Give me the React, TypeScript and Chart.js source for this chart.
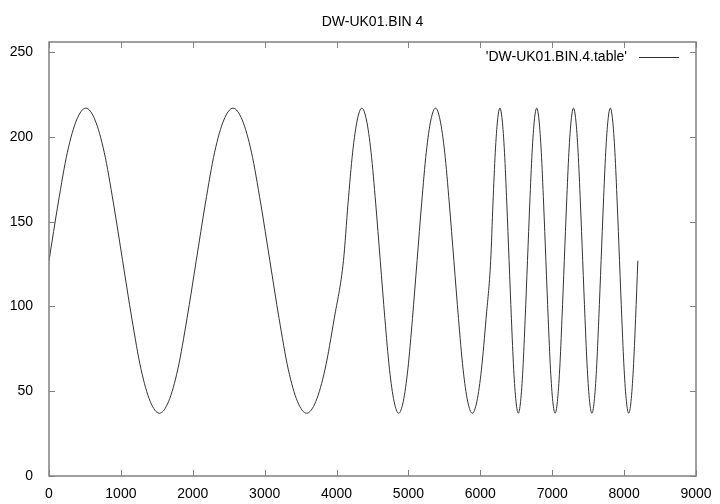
import { useEffect, useRef } from "react";
import { Chart, registerables } from "chart.js";

Chart.register(...registerables);

const TITLE = "DW-UK01.BIN 4";
const SERIES_LABEL = "'DW-UK01.BIN.4.table'";

const sampleIndex = [
  0, 128, 256, 384, 512, 640, 768, 896, 1024, 1152, 1280, 1408, 1536, 1664, 1792, 1920,
  2048, 2176, 2304, 2432, 2560, 2688, 2816, 2944, 3072, 3200, 3328, 3456, 3584, 3712, 3840, 3968,
  4096, 4160, 4224, 4288, 4352, 4416, 4480, 4544, 4608, 4672, 4736, 4800, 4864, 4928, 4992, 5056,
  5120, 5184, 5248, 5312, 5376, 5440, 5504, 5568, 5632, 5696, 5760, 5824, 5888, 5952, 6016, 6080,
  6144, 6176, 6208, 6240, 6272, 6304, 6336, 6368, 6400, 6432, 6464, 6496, 6528, 6560, 6592, 6624,
  6656, 6688, 6720, 6752, 6784, 6816, 6848, 6880, 6912, 6944, 6976, 7008, 7040, 7072, 7104, 7136,
  7168, 7200, 7232, 7264, 7296, 7328, 7360, 7392, 7424, 7456, 7488, 7520, 7552, 7584, 7616, 7648,
  7680, 7712, 7744, 7776, 7808, 7840, 7872, 7904, 7936, 7968, 8000, 8032, 8064, 8096, 8128, 8160,
  8191,
];

const sampleValue = [
  127, 161, 191, 210, 217, 210, 191, 161, 127, 93, 63, 44, 37, 44, 63, 93,
  127, 161, 191, 210, 217, 210, 191, 161, 127, 93, 63, 44, 37, 44, 63, 93,
  127, 161, 191, 210, 217, 210, 191, 161, 127, 93, 63, 44, 37, 44, 63, 93,
  127, 161, 191, 210, 217, 210, 191, 161, 127, 93, 63, 44, 37, 44, 63, 93,
  127, 161, 191, 210, 217, 210, 191, 161, 127, 93, 63, 44, 37, 44, 63, 93,
  127, 161, 191, 210, 217, 210, 191, 161, 127, 93, 63, 44, 37, 44, 63, 93,
  127, 161, 191, 210, 217, 210, 191, 161, 127, 93, 63, 44, 37, 44, 63, 93,
  127, 161, 191, 210, 217, 210, 191, 161, 127, 93, 63, 44, 37, 44, 63, 93,
  127,
];

const xTickValues = [0, 1000, 2000, 3000, 4000, 5000, 6000, 7000, 8000, 9000];
const yTickValues = [0, 50, 100, 150, 200, 250];

const FONT_FAMILY = "'Liberation Sans', Arial, Helvetica, sans-serif";
const FONT_SIZE = 14;
const AXIS_COLOR = "#808080";
const LINE_COLOR = "#333333";

const framePlugin = {
  id: "gnuplotFrame",
  afterDraw(chart: any) {
    const { ctx, chartArea } = chart;
    const { left, right, top, bottom } = chartArea;
    const xs = chart.scales.x;
    const ys = chart.scales.y;
    const tick = 6;
    ctx.save();
    ctx.strokeStyle = AXIS_COLOR;
    ctx.lineWidth = 1.5;
    ctx.strokeRect(left, top, right - left, bottom - top);
    ctx.lineWidth = 1;
    ctx.beginPath();
    for (const v of xTickValues) {
      const px = Math.round(xs.getPixelForValue(v)) + 0.5;
      ctx.moveTo(px, bottom);
      ctx.lineTo(px, bottom - tick);
      ctx.moveTo(px, top);
      ctx.lineTo(px, top + tick);
    }
    for (const v of yTickValues) {
      const py = Math.round(ys.getPixelForValue(v)) + 0.5;
      ctx.moveTo(left, py);
      ctx.lineTo(left + tick, py);
      ctx.moveTo(right, py);
      ctx.lineTo(right - tick, py);
    }
    ctx.stroke();

    // title
    ctx.fillStyle = "#000";
    ctx.font = `${FONT_SIZE}px ${FONT_FAMILY}`;
    ctx.textAlign = "center";
    ctx.textBaseline = "middle";
    ctx.fillText(TITLE, (left + right) / 2, 22);

    // key
    const ds = chart.data.datasets[0];
    const keyY = 57;
    const lineStart = right - 57;
    const lineEnd = right - 17;
    ctx.textAlign = "right";
    ctx.fillText(ds.label, lineStart - 12, keyY);
    ctx.strokeStyle = ds.borderColor;
    ctx.lineWidth = 1;
    ctx.beginPath();
    ctx.moveTo(lineStart, keyY + 0.5);
    ctx.lineTo(lineEnd, keyY + 0.5);
    ctx.stroke();
    ctx.restore();
  },
};

export default function App() {
  const canvasRef = useRef<HTMLCanvasElement | null>(null);

  useEffect(() => {
    const canvas = canvasRef.current;
    if (!canvas) return;
    const points = sampleIndex.map((x, i) => ({ x, y: sampleValue[i] }));
    const chart = new Chart(canvas, {
      type: "line",
      data: {
        datasets: [
          {
            label: SERIES_LABEL,
            data: points,
            borderColor: LINE_COLOR,
            borderWidth: 1,
            pointRadius: 0,
            fill: false,
            cubicInterpolationMode: "monotone",
          },
        ],
      },
      options: {
        animation: false,
        responsive: false,
        layout: { padding: { left: 0, top: 42, right: 24, bottom: 0 } },
        plugins: {
          legend: { display: false },
          title: { display: false },
          tooltip: { enabled: false },
        },
        scales: {
          x: {
            type: "linear",
            min: 0,
            max: 9000,
            grid: { display: false },
            border: { display: false },
            afterFit(s: any) {
              s.height = 28;
            },
            ticks: {
              stepSize: 1000,
              padding: 2,
              maxRotation: 0,
              color: "#000",
              font: { family: FONT_FAMILY, size: FONT_SIZE },
              callback: (v: any) => String(v),
            },
          },
          y: {
            type: "linear",
            min: 0,
            max: 256,
            grid: { display: false },
            border: { display: false },
            afterFit(s: any) {
              s.width = 49;
            },
            ticks: {
              stepSize: 50,
              includeBounds: false,
              padding: 8,
              color: "#000",
              font: { family: FONT_FAMILY, size: FONT_SIZE },
              callback: (v: any) => String(v),
            },
          },
        },
      },
      plugins: [framePlugin],
    });
    return () => chart.destroy();
  }, []);

  return (
    <div style={{ position: "absolute", left: 0, top: 0, width: 720, height: 504, background: "#fff" }}>
      <canvas ref={canvasRef} width={720} height={504} style={{ display: "block" }} />
    </div>
  );
}
